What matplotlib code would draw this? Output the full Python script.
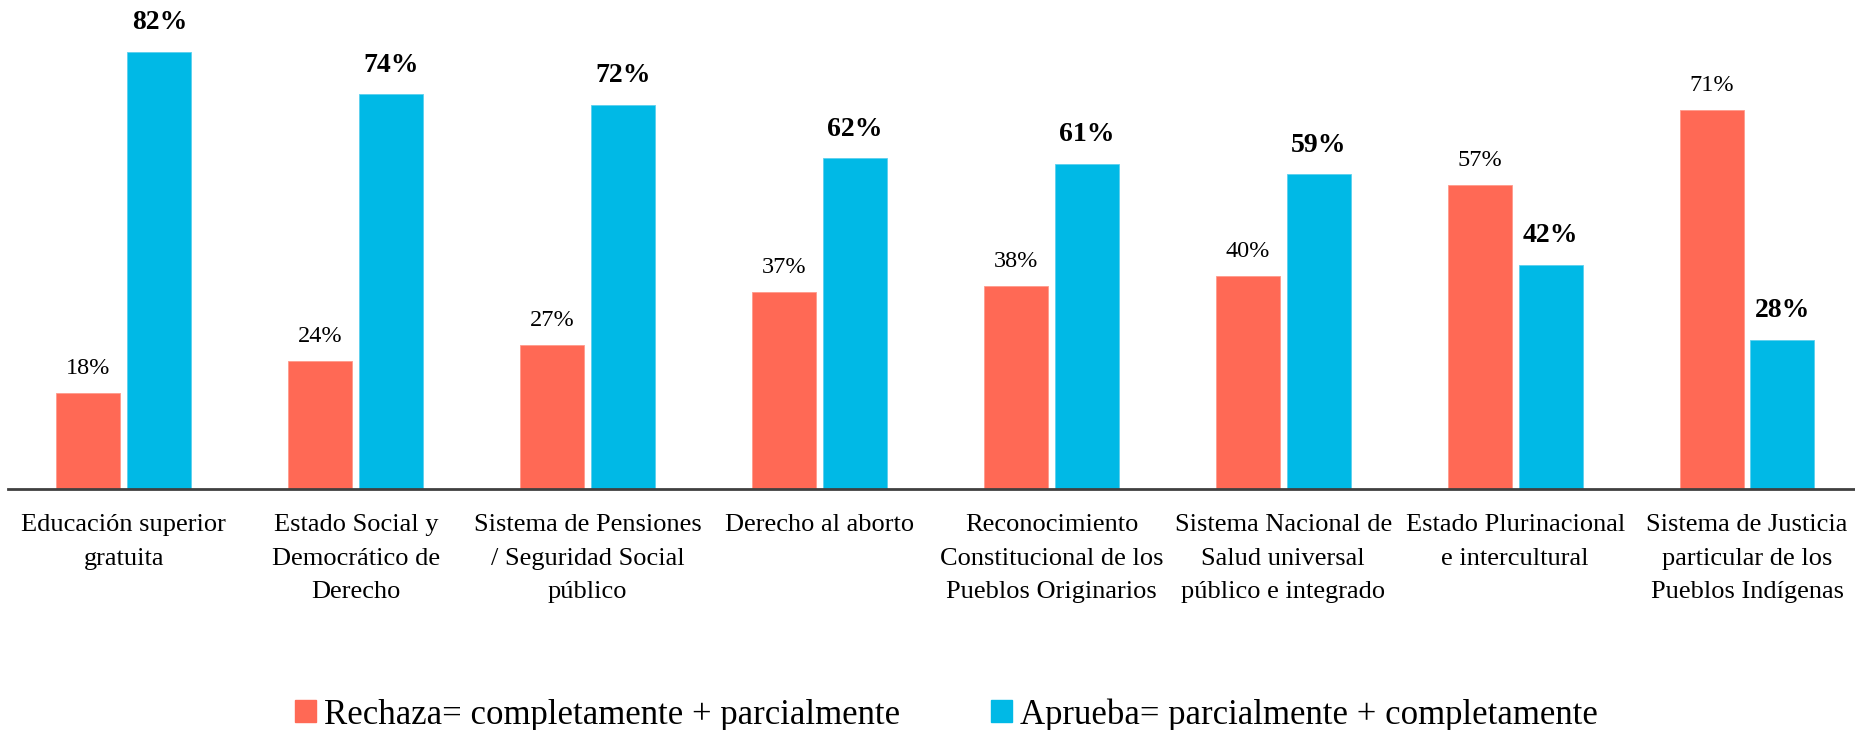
import numpy as np
import matplotlib.pyplot as plt
from matplotlib.patches import Patch

# DATA
categorias = ["Educación superior\ngratuita",
              "Estado Social y\nDemocrático de\nDerecho",
              "Sistema de Pensiones\n/ Seguridad Social\npúblico",
              "Derecho al aborto",
              "Reconocimiento\nConstitucional de los\nPueblos Originarios",
              "Sistema Nacional de\nSalud universal\npúblico e integrado",
              "Estado Plurinacional\ne intercultural",
              "Sistema de Justicia\nparticular de los\nPueblos Indígenas"]
rechaza = [18, 24, 27, 37, 38, 40, 57, 71]
aprueba = [82, 74, 72, 62, 61, 59, 42, 28]
ley_rechaza = "Rechaza= completamente + parcialmente"
ley_aprueba = "Aprueba= parcialmente + completamente"

clr_r = "#FF6955"
clr_a = "#00B9E6"
plt.rcParams["font.family"] = ["Liberation Serif", "DejaVu Serif"]

fig = plt.figure(figsize=[18.56, 7.3], dpi=100)
ax = fig.add_axes([8/1856, 1-489/730, 1-8/1856, 489/730])

x = np.arange(len(categorias))
w = 0.276; g = 0.03
b1 = ax.bar(x-(w+g)/2, rechaza, w, color=clr_r, edgecolor="#FF9A8C", linewidth=0.6)
b2 = ax.bar(x+(w+g)/2, aprueba, w, color=clr_a, edgecolor="#5CD0EE", linewidth=0.6)

for r, v in zip(b1, rechaza):
    ax.annotate(f"{v}%", (r.get_x()+r.get_width()/2, v), xytext=(0, 10),
                textcoords="offset points", ha="center", va="bottom", fontsize=17.5)
for r, v in zip(b2, aprueba):
    ax.annotate(f"{v}%", (r.get_x()+r.get_width()/2, v), xytext=(0, 12),
                textcoords="offset points", ha="center", va="bottom",
                fontsize=20, fontweight="bold")

ax.set_xlim(-0.5, 7.47)
ax.set_ylim(0, 91.7)
for s in ["top", "right", "left"]:
    ax.spines[s].set_visible(False)
ax.spines["bottom"].set_color("#404040")
ax.spines["bottom"].set_linewidth(2)
ax.set_yticks([])
ax.set_xticks(x)
ax.set_xticklabels(categorias, fontsize=19, va="top", linespacing=1.68)
ax.tick_params(axis="x", length=0, pad=18)

handles = [Patch(color=clr_r, label=ley_rechaza), Patch(color=clr_a, label=ley_aprueba)]
fig.legend(handles=handles, loc="lower center", bbox_to_anchor=(0.51, -0.045), ncol=2,
           frameon=False, fontsize=25, handlelength=0.6, handleheight=0.6,
           handletextpad=0.25, columnspacing=2.6)

fig.savefig("out.png", dpi=100)
